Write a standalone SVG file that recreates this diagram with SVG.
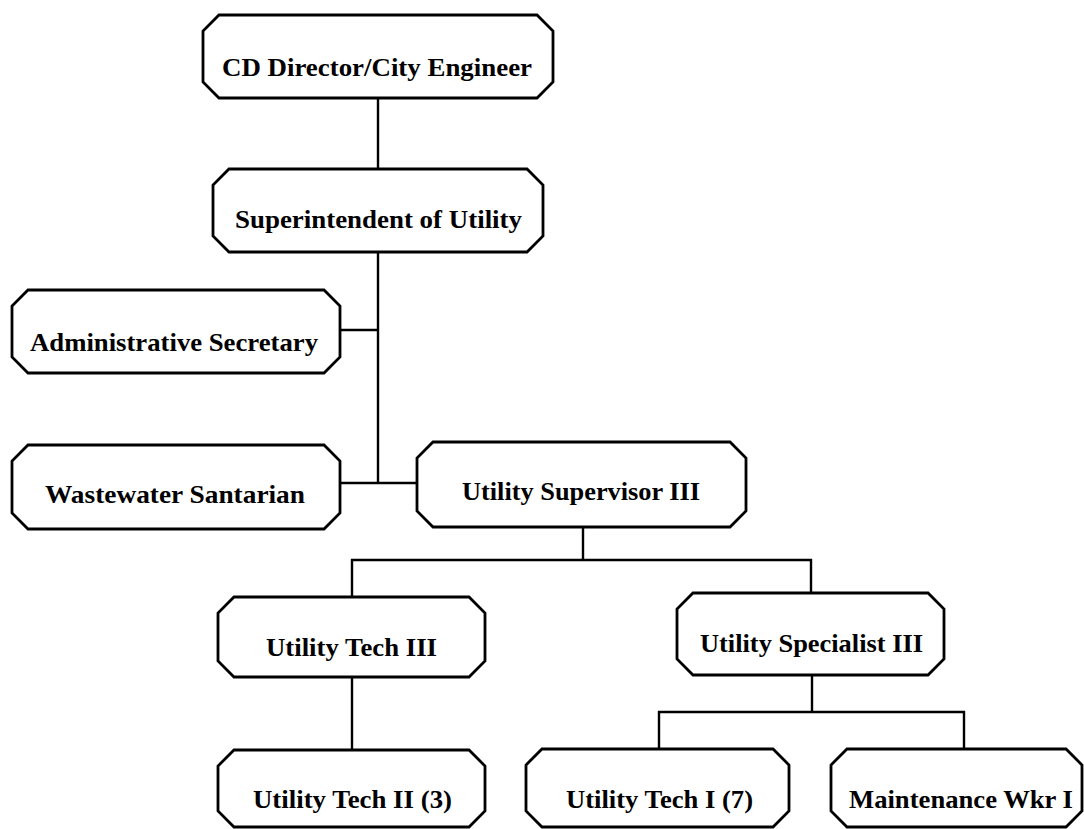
<svg xmlns="http://www.w3.org/2000/svg" width="1084" height="829" viewBox="0 0 1084 829">
  <style>
    .box { fill: #ffffff; stroke: #000000; stroke-width: 2.8; stroke-linejoin: miter; }
    .link { fill: none; stroke: #000000; stroke-width: 2.4; }
    .label { font-family: "Liberation Serif", "Times New Roman", serif; font-weight: bold; font-size: 25px; fill: #000000; }
  </style>
  <rect x="0" y="0" width="1084" height="829" fill="#ffffff"/>

  <!-- reporting lines -->
  <g id="connectors">
    <path class="link" d="M378 98 V169"/>
    <path class="link" d="M378 252 V483"/>
    <path class="link" d="M340 330 H378"/>
    <path class="link" d="M340 483 H417"/>
    <path class="link" d="M583 527 V560"/>
    <path class="link" d="M352 597 V560 H811 V593"/>
    <path class="link" d="M352 677 V750"/>
    <path class="link" d="M812 675 V712"/>
    <path class="link" d="M659 749 V712 H964 V749"/>
  </g>

  <!-- octagonal position boxes: chamfered corners of 16px -->
  <g id="cd-director">
    <polygon class="box" points="219,15 537,15 553,31 553,82 537,98 219,98 203,82 203,31"/>
    <text class="label" x="222" y="76" textLength="310" lengthAdjust="spacingAndGlyphs">CD Director/City Engineer</text>
  </g>

  <g id="superintendent">
    <polygon class="box" points="229,169 527,169 543,185 543,236 527,252 229,252 213,236 213,185"/>
    <text class="label" x="235" y="228" textLength="287" lengthAdjust="spacingAndGlyphs">Superintendent of Utility</text>
  </g>

  <g id="admin-secretary">
    <polygon class="box" points="28,290 324,290 340,306 340,357 324,373 28,373 12,357 12,306"/>
    <text class="label" x="30" y="351" textLength="288" lengthAdjust="spacingAndGlyphs">Administrative Secretary</text>
  </g>

  <g id="wastewater-santarian">
    <polygon class="box" points="28,445 324,445 340,461 340,513 324,529 28,529 12,513 12,461"/>
    <text class="label" x="45" y="503" textLength="260" lengthAdjust="spacingAndGlyphs">Wastewater Santarian</text>
  </g>

  <g id="utility-supervisor">
    <polygon class="box" points="433,442 730,442 746,458 746,511 730,527 433,527 417,511 417,458"/>
    <text class="label" x="462" y="500" textLength="238" lengthAdjust="spacingAndGlyphs">Utility Supervisor III</text>
  </g>

  <g id="utility-tech-3">
    <polygon class="box" points="234,597 469,597 485,613 485,661 469,677 234,677 218,661 218,613"/>
    <text class="label" x="266" y="656" textLength="171" lengthAdjust="spacingAndGlyphs">Utility Tech III</text>
  </g>

  <g id="utility-specialist-3">
    <polygon class="box" points="693,593 928,593 944,609 944,659 928,675 693,675 677,659 677,609"/>
    <text class="label" x="700" y="652" textLength="223" lengthAdjust="spacingAndGlyphs">Utility Specialist III</text>
  </g>

  <g id="utility-tech-2">
    <polygon class="box" points="234,750 469,750 485,766 485,811 469,827 234,827 218,811 218,766"/>
    <text class="label" x="253" y="808" textLength="199" lengthAdjust="spacingAndGlyphs">Utility Tech II (3)</text>
  </g>

  <g id="utility-tech-1">
    <polygon class="box" points="542,749 773,749 789,765 789,811 773,827 542,827 526,811 526,765"/>
    <text class="label" x="566" y="808" textLength="187" lengthAdjust="spacingAndGlyphs">Utility Tech I (7)</text>
  </g>

  <g id="maintenance-wkr">
    <polygon class="box" points="847,749 1066,749 1082,765 1082,811 1066,827 847,827 831,811 831,765"/>
    <text class="label" x="849" y="808" textLength="224" lengthAdjust="spacingAndGlyphs">Maintenance Wkr I</text>
  </g>
</svg>
